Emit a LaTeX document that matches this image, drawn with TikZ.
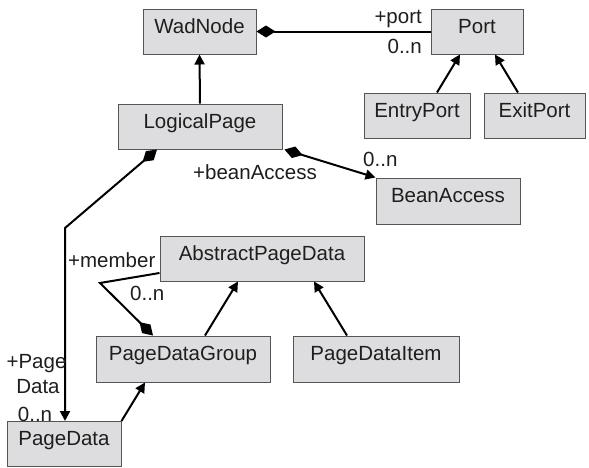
\documentclass[tikz,border=0pt]{standalone}
\usepackage{fontspec}
\setmainfont{Liberation Sans}
\usetikzlibrary{arrows.meta,calc}
\definecolor{boxfill}{RGB}{221,221,223}
\definecolor{boxline}{RGB}{85,85,85}
\definecolor{ink}{RGB}{30,30,30}
\tikzset{
  umlbox/.style={draw=boxline, line width=1pt, fill=boxfill, text=ink, inner sep=0pt,
    minimum height=45pt, text height=15pt, text depth=12pt,
    font=\fontsize{20.5}{24}\selectfont},
  lbl/.style={text=ink, inner sep=0pt, font=\fontsize{20.5}{24}\selectfont},
  conn/.style={line width=2pt, draw=black},
  gen/.style={conn, -{Triangle[length=10pt,width=10pt]}},
  comp/.style={conn, {Diamond[length=19pt,width=12pt]}-},
  compnav/.style={conn, {Diamond[length=19pt,width=12pt]}-{Triangle[length=10pt,width=10pt]}},
  compend/.style={conn, -{Diamond[length=19pt,width=12pt]}}
}
\begin{document}
\begin{tikzpicture}[x=1pt,y=-1pt]
\useasboundingbox (0,0) rectangle (589,467);
% boxes
\node[umlbox, minimum width=113pt] (WadNode) at (199.5,31.5) {WadNode};
\node[umlbox, minimum width=92pt] (Port) at (477,31.5) {Port};
\node[umlbox, minimum width=164pt] (LogicalPage) at (200,126.5) {LogicalPage};
\node[umlbox, minimum width=106pt] (EntryPort) at (417,115.5) {EntryPort};
\node[umlbox, minimum width=101pt] (ExitPort) at (534.5,115.5) {ExitPort};
\node[umlbox, minimum width=144pt, minimum height=46pt] (BeanAccess) at (448,201) {BeanAccess};
\node[umlbox, minimum width=204pt] (APD) at (262,258.5) {AbstractPageData};
\node[umlbox, minimum width=174pt, minimum height=46pt] (PDG) at (183,359) {PageDataGroup};
\node[umlbox, minimum width=166pt, minimum height=46pt] (PDI) at (376,359) {PageDataItem};
\node[umlbox, minimum width=114pt] (PageData) at (64,444) {PageData};
% connectors
\draw[comp] (WadNode.east) -- (Port.west);
\draw[gen] (LogicalPage.north) -- (WadNode.south);
\draw[gen] ($(EntryPort.north)+(20,0)$) -- ($(Port.south)+(-17,0)$);
\draw[gen] ($(ExitPort.north)+(-16.5,0)$) -- ($(Port.south)+(18,0)$);
\draw[compnav] ($(LogicalPage.south east)+(2,0)$) -- (BeanAccess.north west);
\coordinate (bend1) at ($(PageData.north)+(1,-193)$);
\draw[compnav] ($(LogicalPage.south)+(-43,0)$) -- (bend1) -- (bend1 |- PageData.north);
\coordinate (bend2) at (100,283);
\draw[compend] ($(APD.west)+(0,14.5)$) -- (bend2) -- ($(PDG.north)+(-30,0)$);
\draw[gen] ($(PDG.north)+(22,0)$) -- ($(APD.south)+(-24,0)$);
\draw[gen] ($(PDI.north)+(-29,0)$) -- ($(APD.south)+(52,0)$);
\draw[gen] (PageData.north east) -- ($(PDG.south)+(-38,0)$);
% labels
\node[lbl, anchor=base east] (lport) at (422,23) {+port};
\node[lbl, anchor=base east] (lportm) at (422,53) {0..n};
\node[lbl, anchor=base west] (lbean) at (193,179) {+beanAccess};
\node[lbl, anchor=base west] (lbeanm) at (363,166) {0..n};
\node[lbl, anchor=base west] (lmember) at (68,267) {+member};
\node[lbl, anchor=base west] (lmemberm) at (130,300) {0..n};
\node[lbl, anchor=base] (lpd1) at (36.5,368) {+Page};
\node[lbl, anchor=base] (lpd2) at (38,393) {Data};
\node[lbl, anchor=base] (lpd3) at (35,421) {0..n};
\end{tikzpicture}
\end{document}
